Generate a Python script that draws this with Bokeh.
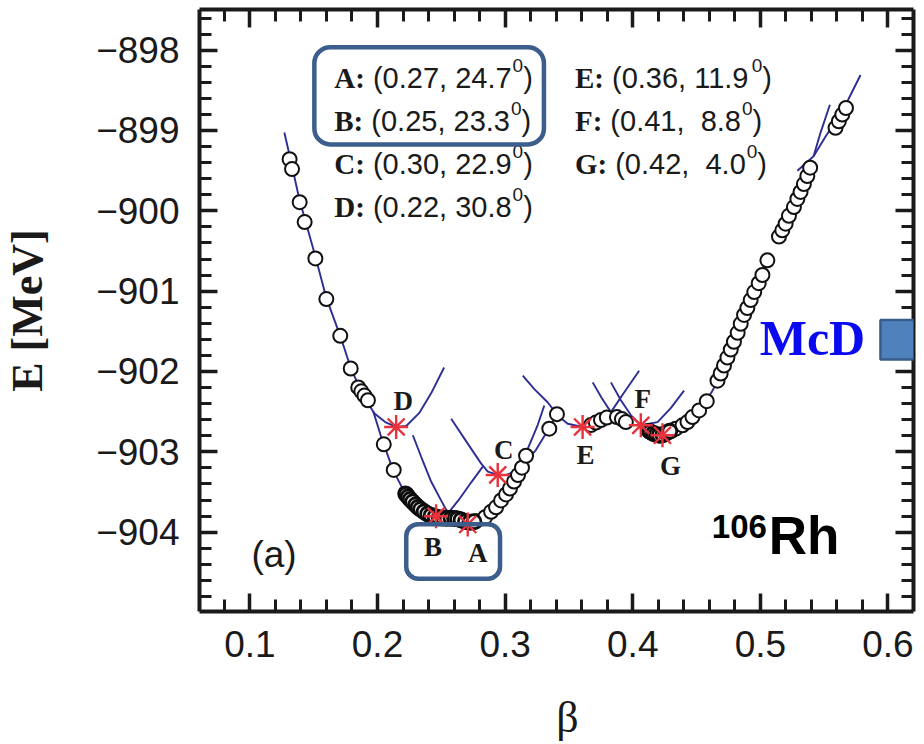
from bokeh.plotting import figure
from bokeh.models import (LinearAxis, SingleIntervalTicker, BoxAnnotation, Label, Range1d,
                          CustomLabelingPolicy)
from bokeh.core.properties import value
from bokeh.embed import file_html
from bokeh.resources import INLINE

# ---------------- data ----------------
circle_beta = [0.1311, 0.1330, 0.1390, 0.1429, 0.1513, 0.1599, 0.1708, 0.1790, 0.1849, 0.1873,
               0.1898, 0.1925, 0.2049, 0.2127, 0.2217, 0.2232, 0.2248, 0.2264, 0.2287, 0.2311,
               0.2326, 0.2350, 0.2381, 0.2405, 0.2436, 0.2467, 0.2499, 0.2530, 0.2561, 0.2592,
               0.2616, 0.2639, 0.2671, 0.2707, 0.2741, 0.2772, 0.2843, 0.2890, 0.2929, 0.2968,
               0.3007, 0.3038, 0.3070, 0.3101, 0.3132, 0.3164, 0.3346, 0.3406, 0.3672, 0.3711,
               0.3751, 0.3797, 0.3876, 0.3915, 0.3946, 0.4126, 0.4150, 0.4173, 0.4196, 0.4220,
               0.4251, 0.4275, 0.4306, 0.4337, 0.4390, 0.4429, 0.4468, 0.4520, 0.4580, 0.4664,
               0.4689, 0.4715, 0.4742, 0.4768, 0.4793, 0.4822, 0.4846, 0.4872, 0.4898, 0.4924,
               0.4952, 0.4987, 0.5016, 0.5055, 0.5146, 0.5172, 0.5198, 0.5224, 0.5263, 0.5290,
               0.5315, 0.5341, 0.5368, 0.5390, 0.5589, 0.5615, 0.5642, 0.5671]
circle_energy = [-899.358, -899.481, -899.893, -900.140, -900.593, -901.099, -901.556, -901.963, -902.198, -902.247,
                 -902.300, -902.358, -902.907, -903.226, -903.519, -903.543, -903.580, -903.605, -903.642, -903.679,
                 -903.704, -903.728, -903.765, -903.784, -903.802, -903.815, -903.827, -903.827, -903.827, -903.827,
                 -903.833, -903.840, -903.858, -903.877, -903.877, -903.864, -903.815, -903.747, -903.691, -903.605,
                 -903.531, -903.457, -903.370, -903.290, -903.198, -903.049, -902.712, -902.531, -902.667, -902.636,
                 -902.605, -902.574, -902.568, -902.593, -902.630, -902.741, -902.765, -902.778, -902.790, -902.796,
                 -902.778, -902.753, -902.735, -902.712, -902.670, -902.630, -902.568, -902.485, -902.370, -902.115,
                 -902.025, -901.926, -901.827, -901.728, -901.630, -901.519, -901.407, -901.296, -901.210, -901.111,
                 -901.012, -900.901, -900.799, -900.617, -900.321, -900.243, -900.160, -900.062, -899.954, -899.852,
                 -899.765, -899.667, -899.568, -899.463, -898.967, -898.885, -898.802, -898.720]

# densely overlapping circles in the two dark clusters (near B/A and near G)
cluster_beta = [0.2225, 0.2240, 0.2256, 0.2275, 0.2299, 0.2318, 0.2338, 0.2365, 0.2393, 0.2420,
                0.2451, 0.2483, 0.2515, 0.2545, 0.2576, 0.2604, 0.2627, 0.2655, 0.2689, 0.2724,
                0.2756, 0.4138, 0.4162, 0.4185, 0.4208, 0.4236, 0.4263, 0.4290]
cluster_energy = [-903.531, -903.561, -903.592, -903.623, -903.660, -903.691, -903.716, -903.746, -903.774, -903.793,
                  -903.808, -903.821, -903.827, -903.827, -903.827, -903.830, -903.836, -903.849, -903.868, -903.877,
                  -903.870, -902.752, -902.772, -902.785, -902.794, -902.788, -902.766, -902.744]

curve_beta = [
    [0.1270, 0.1309, 0.1387, 0.1513, 0.1599, 0.1708, 0.1794, 0.1888, 0.1974, 0.2060, 0.2146, 0.2225, 0.2326, 0.2420, 0.2522],
    [0.1966, 0.2029, 0.2123, 0.2225, 0.2326, 0.2436, 0.2506, 0.2553],
    [0.2277, 0.2342, 0.2420, 0.2498, 0.2553, 0.2639, 0.2733, 0.2825],
    [0.2577, 0.2707, 0.2811, 0.2864, 0.2942, 0.3015, 0.3072, 0.3125, 0.3177, 0.3255, 0.3307],
    [0.3046, 0.3140, 0.3242, 0.3336, 0.3406],
    [0.3138, 0.3229, 0.3333, 0.3412, 0.3490, 0.3607, 0.3711, 0.3829, 0.3923, 0.4050],
    [0.3686, 0.3758, 0.3829, 0.3891],
    [0.3829, 0.3907, 0.3985, 0.4063, 0.4194, 0.4298, 0.4402],
    [0.4103, 0.4233, 0.4337, 0.4455, 0.4533, 0.4627, 0.4705, 0.4807, 0.4924, 0.5055],
    [0.5290, 0.5417, 0.5511, 0.5589, 0.5688, 0.5785],
    [0.5417, 0.5467, 0.5545],
]
curve_energy = [
    [-899.025, -899.296, -899.852, -900.568, -901.086, -901.556, -901.975, -902.296, -902.519, -902.630, -902.691, -902.679, -902.519, -902.272, -901.951],
    [-902.494, -902.815, -903.235, -903.543, -903.704, -903.802, -903.821, -903.790],
    [-902.794, -903.062, -903.370, -903.605, -903.765, -903.593, -903.383, -903.185],
    [-902.589, -902.898, -903.144, -903.247, -903.288, -903.284, -903.247, -903.123, -902.963, -902.667, -902.423],
    [-903.432, -903.160, -902.975, -902.728, -902.531],
    [-902.053, -902.219, -902.383, -902.547, -902.651, -902.691, -902.630, -902.506, -902.284, -901.991],
    [-902.136, -902.333, -902.506, -902.580],
    [-902.136, -902.358, -902.543, -902.670, -902.630, -902.457, -902.238],
    [-902.741, -902.794, -902.728, -902.605, -902.469, -902.235, -901.951, -901.605, -901.123, -900.617],
    [-899.502, -899.321, -899.074, -898.889, -898.617, -898.309],
    [-899.321, -899.049, -898.679],
]

star_names = ["A", "B", "C", "D", "E", "F", "G"]
star_beta = [0.2707, 0.2459, 0.2942, 0.2146, 0.3607, 0.4063, 0.4233]
star_energy = [-903.905, -903.802, -903.288, -902.691, -902.691, -902.670, -902.794]

legend_beta = ["0.27", "0.25", "0.30", "0.22", "0.36", "0.41", "0.42"]
legend_gamma = ["24.7", "23.3", "22.9", "30.8", "11.9", " 8.8", " 4.0"]

x_major = 0.1
y_major = 1
y_labels = {-898: "\u2212898", -899: "\u2212899", -900: "\u2212900", -901: "\u2212901",
            -902: "\u2212902", -903: "\u2212903", -904: "\u2212904"}

# ---------------- styles ----------------
INK = "#1a1a1a"
CURVE = "#2d2d94"
STAR = "#e8323c"
BOXC = "#3b5e8c"
SANS = "Liberation Sans"
SERIF = "Liberation Serif"
NBSP = "\u00a0"
LIFT = 0.35          # baseline correction (fraction of font size)
PX_PER_MEV = 81.0

p = figure(width=922, height=744, x_range=Range1d(0.0605, 0.62), y_range=Range1d(-904.988, -897.494),
           output_backend="svg", toolbar_location=None,
           min_border_left=198, min_border_right=9, min_border_top=9, min_border_bottom=128)
p.outline_line_color = None
p.xgrid.visible = False
p.ygrid.visible = False
p.background_fill_color = "white"
p.border_fill_color = "white"

hide_all = CustomLabelingPolicy(code="""
    for (const i of Array.from(indices)) indices.unset(i)
    return indices
""")

def style_axis(ax, show_labels):
    ax.axis_line_width = 4
    ax.axis_line_color = INK
    ax.major_tick_in = 18
    ax.major_tick_out = 0
    ax.minor_tick_in = 12
    ax.minor_tick_out = 0
    ax.major_tick_line_width = 3.5
    ax.minor_tick_line_width = 3
    ax.major_tick_line_color = INK
    ax.minor_tick_line_color = INK
    if show_labels:
        ax.major_label_text_font = SANS
        ax.major_label_text_font_size = "37px"
        ax.major_label_text_color = INK
    else:
        ax.major_label_policy = hide_all
        ax.major_label_text_font_size = "0px"
        ax.major_label_standoff = 0

p.xaxis.ticker = SingleIntervalTicker(interval=x_major, num_minor_ticks=5)
p.yaxis.ticker = SingleIntervalTicker(interval=y_major, num_minor_ticks=5)
style_axis(p.xaxis[0], True)
style_axis(p.yaxis[0], True)
p.yaxis.major_label_overrides = y_labels
p.xaxis.major_label_standoff = 19
p.yaxis.major_label_standoff = 20

p.yaxis.axis_label = "E [MeV]"
p.yaxis.axis_label_text_font = SERIF
p.yaxis.axis_label_text_font_style = "bold"
p.yaxis.axis_label_text_font_size = "44px"
p.yaxis.axis_label_text_color = INK
p.yaxis.axis_label_standoff = 41

p.xaxis.axis_label = NBSP + NBSP + "\u03b2"
p.xaxis.axis_label_text_font = SERIF
p.xaxis.axis_label_text_font_style = "normal"
p.xaxis.axis_label_text_font_size = "44px"
p.xaxis.axis_label_text_color = INK
p.xaxis.axis_label_standoff = 33

top_ax = LinearAxis(ticker=SingleIntervalTicker(interval=x_major, num_minor_ticks=5))
style_axis(top_ax, False)
p.add_layout(top_ax, "above")
right_ax = LinearAxis(ticker=SingleIntervalTicker(interval=y_major, num_minor_ticks=5))
style_axis(right_ax, False)
p.add_layout(right_ax, "right")

# ---------------- marks ----------------
p.multi_line(curve_beta, curve_energy, line_color=CURVE, line_width=1.9)
p.scatter(circle_beta, circle_energy, marker="circle", size=14, fill_color="white",
          line_color="#111111", line_width=2)
p.scatter(cluster_beta, cluster_energy, marker="circle", size=14, fill_color="#f2f2f2",
          line_color="#0d0d0d", line_width=2.8)
p.scatter(star_beta, star_energy, marker="asterisk", size=24, line_color=STAR, line_width=2.4)

LET = 27
letter_dx = [10, -3, 6, 7, 3, 2, 8]
letter_dy = [38, 40, -15, -17, 37, -17, 40]
p.text(star_beta, star_energy, text=star_names, x_offset=letter_dx,
       y_offset=[d - LIFT * LET for d in letter_dy],
       text_font=value(SERIF), text_font_style="bold", text_font_size=f"{LET}px",
       text_align="center", text_baseline="alphabetic", text_color=INK)

# ---------------- legend block (text) ----------------
ARIAL_W = {c: 0.556 for c in "0123456789"}
ARIAL_W.update({".": 0.278, ",": 0.278, " ": 0.278, NBSP: 0.278, "(": 0.333, ")": 0.333})
TIMESB_W = {"A": 0.722, "B": 0.667, "C": 0.722, "D": 0.722, "E": 0.667, "F": 0.611, "G": 0.778, ":": 0.333}

def width(s, table, size):
    return sum(table[c] for c in s) * size

FS = 29
SUP = 19
col_x = [0.1661, 0.3547]
row_y = [-898.469, -899.012, -899.543, -900.074]
slots = [(0, 0), (0, 1), (0, 2), (0, 3), (1, 0), (1, 1), (1, 2)]

lx, ly, lt, bt, b_off, s_off, c_off = [], [], [], [], [], [], []
for name, b, g, (c, r) in zip(star_names, legend_beta, legend_gamma, slots):
    head = name + ":"
    body = (" (" + b + ", " + g).replace(" ", NBSP)
    w1 = width(head, TIMESB_W, FS)
    w2 = width(body, ARIAL_W, FS)
    w3 = width("0", ARIAL_W, SUP)
    lx.append(col_x[c]); ly.append(row_y[r]); lt.append(head); bt.append(body)
    b_off.append(w1); s_off.append(w1 + w2 + 1); c_off.append(w1 + w2 + w3 + 1)

n = len(lx)
main_dy = [-LIFT * FS] * n
p.text(lx, ly, text=lt, y_offset=main_dy, text_font=value(SERIF), text_font_style="bold",
       text_font_size=f"{FS}px", text_align="left", text_baseline="alphabetic", text_color=INK)
p.text(lx, ly, text=bt, x_offset=b_off, y_offset=main_dy, text_font=value(SANS),
       text_font_size=f"{FS}px", text_align="left", text_baseline="alphabetic", text_color=INK)
p.text(lx, ly, text=["0"] * n, x_offset=s_off, y_offset=[-16 - LIFT * SUP] * n, text_font=value(SANS),
       text_font_size=f"{SUP}px", text_align="left", text_baseline="alphabetic", text_color=INK)
p.text(lx, ly, text=[")"] * n, x_offset=c_off, y_offset=main_dy, text_font=value(SANS),
       text_font_size=f"{FS}px", text_align="left", text_baseline="alphabetic", text_color=INK)

# ---------------- annotations ----------------
p.add_layout(BoxAnnotation(left=0.1505, right=0.3304, top=-897.963, bottom=-899.173,
                           fill_color=None, line_color=BOXC, line_alpha=1, line_width=4.5,
                           border_radius=16))
p.add_layout(BoxAnnotation(left=0.2225, right=0.2960, top=-903.901, bottom=-904.580,
                           fill_color=None, line_color=BOXC, line_alpha=1, line_width=4.5,
                           border_radius=12))
p.add_layout(BoxAnnotation(left=0.5941, right=0.64, top=-901.358, bottom=-901.852,
                           fill_color="#4f81bd", fill_alpha=1, line_color="#385d8a", line_alpha=1,
                           line_width=2.5))

def add_label(x, y, text, font, size, color, style="normal", align="left"):
    p.add_layout(Label(x=x, y=y + LIFT * size / PX_PER_MEV, text=text, text_font=font,
                       text_font_size=f"{size}px", text_font_style=style, text_color=color,
                       text_align=align, text_baseline="alphabetic"))

add_label(0.1012, -904.444, "(a)", SANS, 37, INK)
add_label(0.4995, -901.802, "McD", SERIF, 50, "#0a0af0", style="bold")
add_label(0.4620, -904.074, "106", SANS, 33, "black", style="bold")
add_label(0.5065, -904.272, "Rh", SANS, 53, "black", style="bold")

open("out.html", "w").write(file_html(p, INLINE))
